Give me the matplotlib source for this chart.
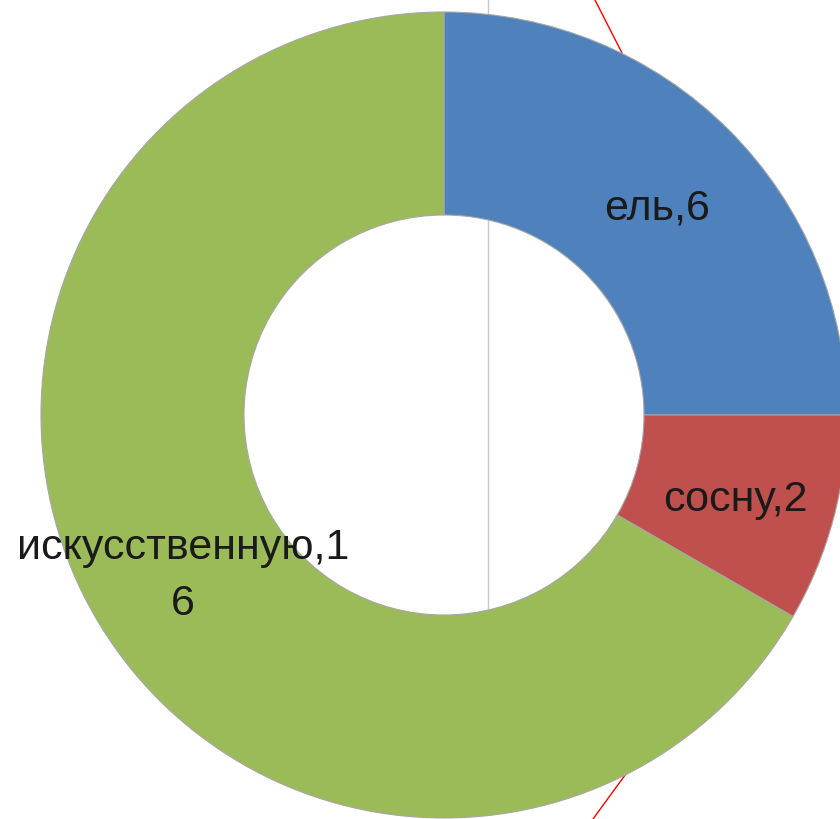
import numpy as np
import matplotlib
matplotlib.use('Agg')
import matplotlib.pyplot as plt

categories = ['ель', 'сосну', 'искусственную']
values = [6, 2, 16]
label_text = ['ель,6', 'сосну,2', 'искусственную,1\n6']
colors = ['#4F81BD', '#C0504D', '#9BBB59']

W, H = 840, 819
cx, cy = 444, H - 415
r_out, r_in = 403, 200

fig = plt.figure(figsize=(W / 100, H / 100), dpi=100)
ax = fig.add_axes([0, 0, 1, 1])

# faint artefact lines behind the chart
ax.plot([488, 488], [H, H - 612], color='#c8c8c8', lw=1, zorder=0)
ax.plot([595, 622], [H, H - 53], color='red', lw=1, zorder=0)
ax.plot([628, 593], [H - 771, H - 819], color='red', lw=1, zorder=0)

wedges, _ = ax.pie(values, colors=colors, startangle=90, counterclock=False,
                   center=(cx, cy), radius=r_out,
                   wedgeprops=dict(width=r_out - r_in, edgecolor='#a6a6a6',
                                   linewidth=0.8))
for w in wedges:
    w.set_zorder(1)

r_mid = (r_out + r_in) / 2
for w, txt in zip(wedges, label_text):
    ang = np.deg2rad((w.theta1 + w.theta2) / 2)
    x = cx + r_mid * np.cos(ang)
    y = cy + r_mid * np.sin(ang)
    y -= 10 if '\n' in txt else 7
    ax.text(x, y, txt, ha='center', va='center', fontsize=31,
            family='Liberation Sans', color='#1a1a1a', linespacing=1.5,
            zorder=3)

ax.set_xlim(0, W)
ax.set_ylim(0, H)
ax.set_aspect('auto')
ax.axis('off')

fig.savefig('out.png', dpi=100)
